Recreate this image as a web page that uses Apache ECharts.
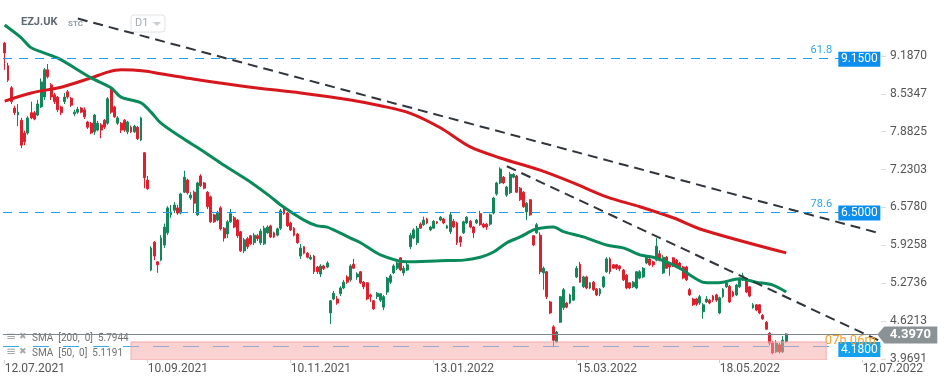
<!DOCTYPE html>
<html><head><meta charset="utf-8">
<script src="https://cdn.jsdelivr.net/npm/echarts@6/dist/echarts.min.js"></script>
<style>html,body{margin:0;padding:0;background:#fff}#c{width:949px;height:385px}</style>
</head><body><div id="c"></div>
<script>
const open = [9.41,9.02,8.64,8.29,8.17,8.08,7.86,7.86,8.21,8.21,8.17,8.31,8.48,8.95,8.69,8.52,8.48,8.31,8.40,8.57,8.46,8.19,8.22,8.29,8.26,8.05,8.03,7.88,7.91,8.00,8.08,8.03,8.62,8.31,8.03,8.03,8.08,7.88,7.96,7.88,7.96,7.74,7.52,7.05,5.50,5.98,5.64,5.67,5.93,6.14,6.45,6.53,6.57,6.48,6.84,7.05,6.74,6.84,6.45,7.12,7.00,6.84,6.76,6.45,6.36,6.57,6.22,6.12,6.33,6.40,6.36,6.16,5.83,6.04,6.09,5.97,6.09,5.97,5.95,6.14,6.26,6.14,6.10,6.22,6.55,6.48,6.31,6.22,6.12,5.74,5.90,5.79,5.69,5.74,5.55,5.43,5.57,5.55,4.76,5.00,5.00,5.09,5.19,5.38,5.33,5.60,5.38,5.47,5.29,5.28,5.07,4.97,5.04,4.98,4.86,5.12,5.29,5.45,5.53,5.71,5.45,5.50,5.90,6.05,5.97,6.29,6.28,6.38,6.19,6.22,6.33,6.36,6.38,6.22,6.16,6.34,6.31,6.07,6.14,6.31,6.34,6.24,6.31,6.47,6.29,6.29,6.29,6.48,6.81,7.00,7.10,6.79,6.83,7.10,7.12,6.91,6.84,6.50,6.71,6.09,6.14,6.10,5.45,5.47,4.95,4.52,4.26,4.60,4.85,4.93,4.93,4.98,5.38,5.60,5.21,5.38,5.19,5.29,5.17,5.09,5.21,5.47,5.69,5.59,5.59,5.57,5.50,5.41,5.28,5.21,5.19,5.36,5.38,5.62,5.69,5.64,5.67,5.78,5.45,5.72,5.62,5.71,5.67,5.62,5.55,5.55,5.16,5.00,5.00,4.93,4.78,4.95,4.98,5.05,5.07,4.76,5.04,5.21,5.22,5.12,5.07,5.21,5.33,5.33,5.21,4.85,4.90,4.90,4.72,4.60,4.41,4.24,4.09,4.21,4.09,4.26];
const close = [9.24,8.77,8.40,8.21,8.22,7.65,7.71,8.12,8.12,8.10,8.36,8.74,8.95,8.83,8.48,8.40,8.26,8.21,8.48,8.48,8.34,8.22,8.27,8.22,8.14,7.96,7.86,8.17,8.03,7.91,7.96,8.45,8.22,8.14,8.12,7.91,7.91,8.05,7.88,7.98,7.76,8.12,7.09,6.90,5.88,5.74,5.59,6.05,6.24,6.57,6.50,6.62,6.48,6.81,7.10,6.83,6.79,6.65,7.00,6.95,6.91,6.59,6.33,6.33,6.48,6.21,6.05,6.33,6.47,6.24,6.09,5.83,6.02,5.90,5.95,6.10,6.04,6.17,6.22,6.24,6.07,6.07,6.21,6.52,6.47,6.26,6.19,6.10,5.97,5.88,5.79,5.72,5.72,5.47,5.47,5.57,5.52,5.62,4.97,5.10,4.93,5.19,5.29,5.29,5.57,5.53,5.43,5.28,5.21,5.00,5.04,4.83,5.10,5.09,5.04,5.36,5.40,5.57,5.62,5.50,5.53,5.59,6.10,6.19,6.22,6.22,6.36,6.31,6.24,6.34,6.31,6.41,6.31,6.26,6.45,6.24,5.97,5.98,6.33,6.41,6.24,6.14,6.36,6.28,6.24,6.24,6.45,6.74,7.00,7.24,7.00,6.93,7.15,7.15,6.84,6.71,6.59,6.65,6.45,5.93,6.28,5.47,5.53,5.04,4.76,4.29,4.43,5.04,5.16,4.86,5.07,5.21,5.53,5.29,5.38,5.19,5.28,5.16,5.07,5.17,5.38,5.69,5.47,5.53,5.53,5.52,5.33,5.19,5.19,5.29,5.47,5.47,5.53,5.72,5.59,5.59,5.91,5.67,5.72,5.53,5.55,5.57,5.55,5.53,5.36,5.33,5.07,4.90,4.91,5.04,4.90,5.00,4.93,4.98,4.98,5.02,5.17,5.28,4.95,5.05,5.24,5.33,5.40,5.12,5.05,4.90,4.81,4.76,4.66,4.48,4.24,4.07,4.24,4.09,4.29,4.397];
const low = [8.95,8.74,8.36,8.17,7.98,7.60,7.65,7.83,8.10,8.08,8.15,8.29,8.43,8.80,8.43,8.36,8.22,8.17,8.36,8.45,8.31,8.15,8.19,8.20,8.10,7.93,7.84,7.83,7.89,7.77,7.93,8.00,8.19,8.12,8.00,7.86,7.88,7.84,7.86,7.86,7.74,7.72,6.91,6.88,5.48,5.67,5.45,5.65,5.88,6.10,6.40,6.48,6.45,6.46,6.83,6.80,6.71,6.48,6.43,6.93,6.89,6.55,6.31,6.31,6.34,6.18,5.99,6.05,6.31,6.22,6.05,5.81,5.79,5.86,5.93,5.93,6.00,5.93,5.93,6.12,6.05,6.05,6.08,6.19,6.45,6.24,6.17,6.08,5.95,5.69,5.77,5.70,5.67,5.43,5.43,5.38,5.50,5.53,4.57,4.98,4.90,5.05,5.17,5.26,5.30,5.52,5.33,5.26,5.17,4.98,4.95,4.81,5.00,4.95,4.81,5.07,5.26,5.43,5.50,5.48,5.40,5.48,5.86,6.03,5.93,6.21,6.26,6.29,6.17,6.21,6.29,6.34,6.29,6.21,6.12,6.22,5.93,5.90,6.12,6.29,6.22,6.05,6.29,6.26,6.22,6.19,6.26,6.46,6.78,6.98,6.98,6.76,6.81,7.08,6.83,6.69,6.57,6.36,6.43,5.91,6.12,5.43,5.16,5.00,4.74,4.17,4.24,4.59,4.81,4.84,4.91,4.97,5.36,5.28,5.19,5.17,5.17,5.14,5.05,5.05,5.19,5.45,5.43,5.52,5.50,5.48,5.31,5.17,5.17,5.19,5.17,5.34,5.36,5.60,5.57,5.55,5.65,5.65,5.43,5.52,5.40,5.55,5.53,5.50,5.34,5.31,5.05,4.88,4.88,4.90,4.66,4.93,4.91,4.95,4.95,4.74,5.02,5.19,4.93,5.03,5.05,5.19,5.31,5.10,5.03,4.83,4.79,4.74,4.64,4.47,4.20,4.05,4.07,4.06,4.07,4.24];
const high = [9.43,9.07,8.67,8.33,8.36,8.12,7.90,8.15,8.40,8.24,8.43,8.80,8.98,9.05,8.72,8.55,8.50,8.33,8.55,8.60,8.48,8.26,8.31,8.31,8.30,8.07,8.05,8.19,8.07,8.03,8.10,8.48,8.67,8.33,8.15,8.05,8.10,8.07,7.99,8.00,7.98,8.14,7.53,7.12,5.91,6.00,5.65,6.10,6.30,6.60,6.62,6.67,6.62,6.83,7.21,7.07,6.84,6.87,7.02,7.15,7.02,6.86,6.78,6.47,6.52,6.60,6.24,6.36,6.55,6.43,6.38,6.17,6.05,6.07,6.10,6.14,6.12,6.21,6.26,6.27,6.28,6.16,6.23,6.55,6.60,6.50,6.33,6.24,6.14,5.95,5.91,5.81,5.76,5.76,5.57,5.60,5.59,5.65,4.98,5.14,5.05,5.22,5.33,5.41,5.60,5.69,5.46,5.48,5.31,5.29,5.09,4.98,5.12,5.10,5.07,5.38,5.43,5.60,5.64,5.72,5.57,5.62,6.14,6.22,6.26,6.32,6.42,6.40,6.26,6.36,6.34,6.43,6.40,6.28,6.50,6.38,6.33,6.09,6.35,6.43,6.36,6.26,6.38,6.52,6.31,6.31,6.47,6.76,7.02,7.27,7.12,6.95,7.19,7.17,7.14,6.93,6.86,6.67,6.72,6.10,6.31,6.15,5.56,5.48,4.97,4.55,4.45,5.05,5.19,4.95,5.09,5.22,5.57,5.64,5.40,5.40,5.29,5.31,5.19,5.19,5.40,5.72,5.72,5.60,5.60,5.58,5.52,5.43,5.29,5.31,5.48,5.50,5.55,5.76,5.71,5.66,6.05,5.84,5.76,5.74,5.64,5.72,5.69,5.64,5.57,5.57,5.19,5.02,5.02,5.07,4.93,5.05,5.00,5.07,5.09,5.04,5.19,5.31,5.24,5.14,5.26,5.34,5.45,5.36,5.22,4.93,4.91,4.91,4.74,4.62,4.43,4.28,4.29,4.24,4.36,4.41];

// SMA curves as [barIndex, value]
const sma200 = [[0,8.41],[8,8.55],[17,8.65],[26,8.81],[31,8.91],[35,8.95],[42,8.93],[47,8.88],[59,8.77],[74,8.65],[89,8.55],[104,8.43],[113,8.33],[122,8.20],[131,7.95],[140,7.62],[149,7.43],[161,7.22],[171,7.00],[181,6.76],[191,6.59],[201,6.40],[210,6.19],[235,5.7944]];
const sma50 = [[0,9.72],[5,9.50],[8,9.33],[16,9.15],[26,8.81],[32,8.64],[35,8.48],[41,8.38],[44,8.22],[47,8.03],[53,7.79],[59,7.57],[65,7.34],[73,7.05],[80,6.76],[83,6.62],[90,6.36],[94,6.26],[97,6.24],[104,6.05],[107,5.97],[113,5.76],[121,5.64],[131,5.66],[138,5.67],[143,5.72],[147,5.81],[151,5.97],[155,6.07],[159,6.19],[161,6.22],[165,6.24],[168,6.16],[174,6.07],[181,5.93],[186,5.88],[191,5.76],[195,5.72],[199,5.64],[203,5.53],[207,5.38],[210,5.29],[213,5.28],[216,5.29],[221,5.35],[226,5.29],[231,5.24],[235,5.1191]];

// trend lines: [startIndex, startValue, endIndex, endValue]
const trendLines = [[22, 9.832, 263, 6.134], [151, 7.288, 263, 4.28]];

const fibLevels = [9.15, 6.5];
const fibNames = ['61.8', '78.6'];
const lastPrice = 4.397;
const bidPrice = 4.18;
// shaded zone: [fromIndex, toIndex, topValue, bottomValue]
const zone = [38, 247, 4.26, 3.949];
const sma200Last = 5.7944, sma50Last = 5.1191;

const yTicks = [3.9691, 4.6213, 5.2736, 5.9258, 6.5780, 7.2303, 7.8825, 8.5347, 9.1870];
const xTickIndex = [0, 43, 86, 129, 172, 215, 258];
const xTickText = ['12.07.2021', '10.09.2021', '10.11.2021', '13.01.2022', '15.03.2022', '18.05.2022', '12.07.2022'];
const barCount = 264;

const cats = [];
for (let i = 0; i < barCount; i++) cats.push(i);
const candles = open.map((o, i) => [o, close[i], low[i], high[i]]);
const lastIdx = barCount - 1;

const chart = echarts.init(document.getElementById('c'));
const font = 'Roboto';
const markerItems = [];
fibLevels.forEach((lv, k) => {
  markerItems.push({coord: [lastIdx, lv], symbol: 'rect', symbolSize: [1, 1], symbolOffset: [-58, -8],
    itemStyle: {color: 'rgba(0,0,0,0)'}, label: {show: true, formatter: fibNames[k], color: '#2aa4ee', fontSize: 11, fontFamily: font}});
  markerItems.push({coord: [lastIdx, lv], symbol: 'rect', symbolSize: [42, 15], symbolOffset: [-20, 1],
    itemStyle: {color: '#0b8ef0'}, label: {show: true, formatter: lv.toFixed(4), color: '#fff', fontSize: 12, fontFamily: font}});
});
markerItems.push({coord: [lastIdx, bidPrice], symbol: 'rect', symbolSize: [1, 1], symbolOffset: [-29, -6],
  itemStyle: {color: 'rgba(0,0,0,0)'}, label: {show: true, formatter: '07h 06m', color: '#f5a12a', fontSize: 13, fontFamily: font}});
markerItems.push({coord: [lastIdx, bidPrice], symbol: 'rect', symbolSize: [42, 15], symbolOffset: [-20, 3],
  itemStyle: {color: '#14a2ee'}, label: {show: true, formatter: bidPrice.toFixed(4), color: '#fff', fontSize: 12, fontFamily: font}});
markerItems.push({coord: [lastIdx, lastPrice], symbol: 'path://M0,8 L7,0 L60,0 L60,17 L7,17 Z', symbolSize: [60, 17], symbolOffset: [28, 1],
  itemStyle: {color: '#8a9296'}, label: {show: true, formatter: lastPrice.toFixed(4), color: '#fff', fontSize: 13, fontWeight: 'bold', fontFamily: font, offset: [3, 0]}});

const series = [
  {type: 'candlestick', data: candles, barWidth: 2.4, z: 2,
   itemStyle: {color: '#13875a', color0: '#de1f2e', borderColor: '#13875a', borderColor0: '#de1f2e', borderWidth: 1}},
  {type: 'line', data: sma200, symbol: 'none', smooth: 0.3, z: 3, lineStyle: {color: '#d7171e', width: 3}},
  {type: 'line', data: sma50, symbol: 'none', smooth: 0.3, z: 3, lineStyle: {color: '#0a8a5b', width: 3}},
];
trendLines.forEach(t => series.push({type: 'line', data: [[t[0], t[1]], [t[2], t[3]]], symbol: 'none', z: 4,
  lineStyle: {color: '#2f353b', width: 2, type: [10, 6]}}));
series.push({type: 'line', data: [], z: 5, silent: true,
  markLine: {symbol: 'none', silent: true, label: {show: false}, data: [
    ...fibLevels.map(v => ({yAxis: v, lineStyle: {color: '#1e9de8', width: 1, type: [9, 7]}})),
    {yAxis: lastPrice, lineStyle: {color: '#7f868b', width: 1, type: 'solid'}},
    {yAxis: bidPrice, lineStyle: {color: '#3aa8ec', width: 1, type: [16, 14]}}
  ]}});
series.push({type: 'custom', data: [zone], z: 20, silent: true, clip: true,
  encode: {x: [0, 1], y: [2, 3]},
  renderItem: (params, api) => {
    const p1 = api.coord([api.value(0), api.value(2)]);
    const p2 = api.coord([api.value(1), api.value(3)]);
    return {type: 'rect', z2: 100,
      shape: {x: p1[0], y: p1[1], width: p2[0] - p1[0], height: p2[1] - p1[1]},
      style: {fill: 'rgba(247,165,165,0.5)', stroke: '#f4a9a9', lineWidth: 1}};
  }});
series.push({type: 'line', data: [], z: 30, silent: true, clip: false,
  markPoint: {silent: true, data: markerItems}});

chart.setOption({
  animation: false,
  grid: {left: 3, right: 68, top: 5, bottom: 25},
  xAxis: {type: 'category', data: cats, boundaryGap: true,
    axisLine: {show: false},
    axisTick: {show: true, alignWithLabel: true, length: 3, interval: (i) => xTickIndex.includes(i), lineStyle: {color: '#cfcfcf'}},
    axisLabel: {interval: (i) => xTickIndex.includes(i), formatter: (v, i) => xTickText[xTickIndex.indexOf(i)] || '',
      align: 'left', color: '#555', fontSize: 12, fontFamily: font, margin: 3},
    splitLine: {show: false}},
  yAxis: {type: 'value', position: 'right', min: 3.949, max: 10.066, scale: true,
    axisLine: {show: false}, splitLine: {show: false},
    axisTick: {show: true, customValues: yTicks, length: 5, lineStyle: {color: '#dcdcdc'}},
    axisLabel: {customValues: yTicks, formatter: v => v.toFixed(4), color: '#555', fontSize: 12, fontFamily: font, margin: 9}},
  series: series,
  graphic: [
    {type: 'text', left: 21, top: 17, style: {text: 'EZJ.UK', font: 'bold 11px Roboto', fill: '#5d6873'}},
    {type: 'text', left: 68, top: 20, style: {text: 'STC', font: 'bold 8px Roboto', fill: '#8e9ba7'}},
    {type: 'rect', shape: {x: 131, y: 15, width: 34, height: 17, r: 3}, style: {fill: '#fff', stroke: '#e2e2e2', lineWidth: 1}},
    {type: 'text', x: 135, y: 18, style: {text: 'D1', font: '11px Roboto', fill: '#a3abb3'}},
    {type: 'polygon', shape: {points: [[153, 22], [161, 22], [157, 26]]}, style: {fill: '#c9ced3'}},
    {type: 'text', x: 6, y: 331, style: {text: '≡', font: '12px DejaVu Sans', fill: '#a8a8a8'}},
    {type: 'text', x: 19, y: 332, style: {text: '✖', font: '9px DejaVu Sans', fill: '#a8a8a8'}},
    {type: 'text', x: 32, y: 333, style: {text: 'SMA  [200,  0]  ' + sma200Last.toFixed(4), font: '10px Roboto', fill: '#707070'}},
    {type: 'text', x: 6, y: 346, style: {text: '≡', font: '12px DejaVu Sans', fill: '#a8a8a8'}},
    {type: 'text', x: 19, y: 347, style: {text: '✖', font: '9px DejaVu Sans', fill: '#a8a8a8'}},
    {type: 'text', x: 32, y: 348, style: {text: 'SMA  [50,  0]  ' + sma50Last.toFixed(4), font: '10px Roboto', fill: '#707070'}}
  ]
});
</script></body></html>
